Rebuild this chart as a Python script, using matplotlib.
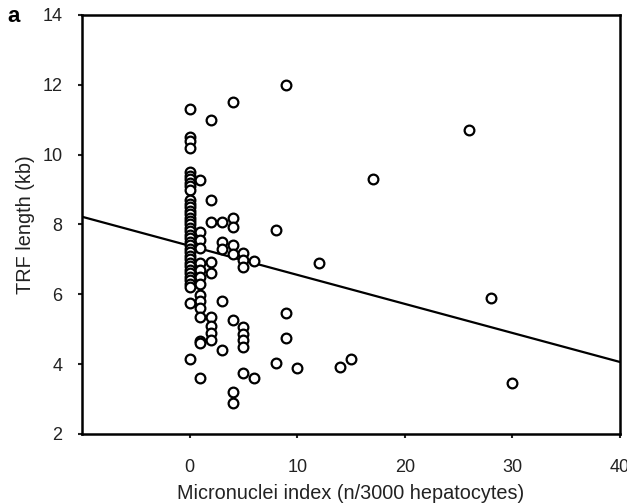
import matplotlib
matplotlib.use("Agg")
import matplotlib.pyplot as plt
import numpy as np

plt.rcParams["font.family"] = ["Liberation Sans", "DejaVu Sans"]

# micronuclei index (n/3000 hepatocytes) and TRF length (kb)
mn_index = (
    [0] * 38
    + [1] * 15
    + [2] * 9
    + [3] * 5
    + [4] * 8
    + [5] * 8
    + [6, 6, 8, 8, 9, 9, 9, 10, 12, 14, 15, 17, 26, 28, 30]
)
trf_length = [
    # x = 0
    11.3, 10.5, 10.4, 10.2, 9.5, 9.4, 9.3, 9.2, 9.1, 9.0,
    8.7, 8.6, 8.5, 8.4, 8.3, 8.2, 8.1, 8.0, 7.9, 7.8,
    7.7, 7.6, 7.5, 7.4, 7.3, 7.2, 7.1, 7.0, 6.9, 6.8,
    6.7, 6.6, 6.5, 6.4, 6.3, 6.2, 5.75, 4.15,
    # x = 1
    9.27, 7.78, 7.55, 7.33, 6.9, 6.7, 6.5, 6.3, 5.98, 5.8,
    5.6, 5.35, 4.65, 4.6, 3.6,
    # x = 2
    11.0, 8.7, 8.07, 6.93, 6.6, 5.35, 5.1, 4.9, 4.7,
    # x = 3
    8.07, 7.5, 7.3, 5.8, 4.4,
    # x = 4
    11.5, 8.2, 7.93, 7.4, 7.15, 5.27, 3.2, 2.9,
    # x = 5
    7.18, 6.98, 6.78, 5.05, 4.85, 4.7, 4.5, 3.75,
    # x >= 6
    6.95, 3.6, 7.84, 4.03, 12.0, 5.47, 4.75, 3.9, 6.9, 3.92,
    4.15, 9.3, 10.7, 5.9, 3.45,
]

# regression line as drawn
fit_intercept = 7.39
fit_slope = -0.0832

x_ticks = [0, 10, 20, 30, 40]
y_ticks = [2, 4, 6, 8, 10, 12, 14]

fig = plt.figure(figsize=(6.27, 5.03), dpi=100)
ax = fig.add_axes([0.1308, 0.1372, 0.8580, 0.8330])

ax.plot(mn_index, trf_length, "o", ms=7, mfc="white", mec="black", mew=1.6,
        linestyle="none", zorder=3)

xs = np.array([-10, 40])
ax.plot(xs, fit_intercept + fit_slope * xs, color="black", lw=1.6, zorder=2)

ax.set_xlim(-10, 40)
ax.set_ylim(2, 14)
ax.set_xticks(x_ticks)
ax.set_yticks(y_ticks)

for sp in ax.spines.values():
    sp.set_linewidth(1.8)
    sp.set_color("black")

ax.tick_params(axis="both", direction="out", length=3, width=1.5,
               labelsize=13, colors="#222222")
ax.tick_params(axis="x", pad=15)
ax.tick_params(axis="y", pad=11)

ax.set_xlabel("Micronuclei index (n/3000 hepatocytes)", fontsize=14.3,
              color="#222222", labelpad=6)
ax.set_ylabel("TRF length (kb)", fontsize=14.3, color="#222222", labelpad=5)

fig.text(0.012, 0.968, "a", fontsize=16, fontweight="bold", va="center",
         ha="left")

fig.savefig("out.png", dpi=100)
